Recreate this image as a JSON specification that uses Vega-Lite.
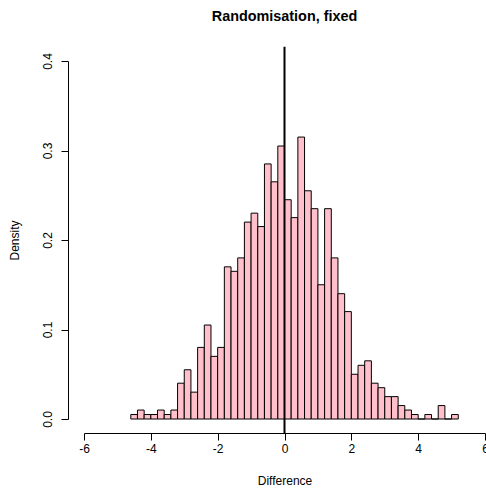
{
  "$schema": "https://vega.github.io/schema/vega-lite/v6.json",
  "width": 401,
  "height": 358,
  "autosize": {"type": "none"},
  "padding": {"left": 84, "top": 61, "right": 1, "bottom": 71},
  "background": "white",
  "config": {
    "view": {"stroke": null},
    "font": "Liberation Sans",
    "axis": {
      "grid": false,
      "domainColor": "black",
      "domainWidth": 1,
      "tickColor": "black",
      "tickWidth": 1,
      "tickSize": 7,
      "labelColor": "black",
      "labelFontSize": 12,
      "labelFlush": false,
      "labelOverlap": false,
      "titleColor": "black",
      "titleFontSize": 12,
      "titleFontWeight": "normal"
    }
  },
  "title": {
    "text": "Randomisation, fixed",
    "fontSize": 14.4,
    "fontWeight": "bold",
    "color": "black",
    "anchor": "middle",
    "frame": "group",
    "baseline": "alphabetic",
    "offset": 10
  },
  "layer": [
    {
      "data": {
        "values": [
          {"lo": -4.6, "hi": -4.4, "density": 0.005},
          {"lo": -4.4, "hi": -4.2, "density": 0.010},
          {"lo": -4.2, "hi": -4.0, "density": 0.005},
          {"lo": -4.0, "hi": -3.8, "density": 0.005},
          {"lo": -3.8, "hi": -3.6, "density": 0.010},
          {"lo": -3.6, "hi": -3.4, "density": 0.005},
          {"lo": -3.4, "hi": -3.2, "density": 0.010},
          {"lo": -3.2, "hi": -3.0, "density": 0.040},
          {"lo": -3.0, "hi": -2.8, "density": 0.055},
          {"lo": -2.8, "hi": -2.6, "density": 0.030},
          {"lo": -2.6, "hi": -2.4, "density": 0.080},
          {"lo": -2.4, "hi": -2.2, "density": 0.105},
          {"lo": -2.2, "hi": -2.0, "density": 0.070},
          {"lo": -2.0, "hi": -1.8, "density": 0.080},
          {"lo": -1.8, "hi": -1.6, "density": 0.170},
          {"lo": -1.6, "hi": -1.4, "density": 0.165},
          {"lo": -1.4, "hi": -1.2, "density": 0.180},
          {"lo": -1.2, "hi": -1.0, "density": 0.220},
          {"lo": -1.0, "hi": -0.8, "density": 0.230},
          {"lo": -0.8, "hi": -0.6, "density": 0.215},
          {"lo": -0.6, "hi": -0.4, "density": 0.285},
          {"lo": -0.4, "hi": -0.2, "density": 0.265},
          {"lo": -0.2, "hi": 0.0, "density": 0.305},
          {"lo": 0.0, "hi": 0.2, "density": 0.245},
          {"lo": 0.2, "hi": 0.4, "density": 0.225},
          {"lo": 0.4, "hi": 0.6, "density": 0.315},
          {"lo": 0.6, "hi": 0.8, "density": 0.255},
          {"lo": 0.8, "hi": 1.0, "density": 0.235},
          {"lo": 1.0, "hi": 1.2, "density": 0.150},
          {"lo": 1.2, "hi": 1.4, "density": 0.235},
          {"lo": 1.4, "hi": 1.6, "density": 0.180},
          {"lo": 1.6, "hi": 1.8, "density": 0.140},
          {"lo": 1.8, "hi": 2.0, "density": 0.120},
          {"lo": 2.0, "hi": 2.2, "density": 0.050},
          {"lo": 2.2, "hi": 2.4, "density": 0.060},
          {"lo": 2.4, "hi": 2.6, "density": 0.065},
          {"lo": 2.6, "hi": 2.8, "density": 0.040},
          {"lo": 2.8, "hi": 3.0, "density": 0.035},
          {"lo": 3.0, "hi": 3.2, "density": 0.025},
          {"lo": 3.2, "hi": 3.4, "density": 0.025},
          {"lo": 3.4, "hi": 3.6, "density": 0.015},
          {"lo": 3.6, "hi": 3.8, "density": 0.010},
          {"lo": 3.8, "hi": 4.0, "density": 0.005},
          {"lo": 4.0, "hi": 4.2, "density": 0.000},
          {"lo": 4.2, "hi": 4.4, "density": 0.005},
          {"lo": 4.4, "hi": 4.6, "density": 0.000},
          {"lo": 4.6, "hi": 4.8, "density": 0.015},
          {"lo": 4.8, "hi": 5.0, "density": 0.000},
          {"lo": 5.0, "hi": 5.2, "density": 0.005}
        ]
      },
      "mark": {"type": "rect", "fill": "#FFC0CB", "stroke": "black", "strokeWidth": 1},
      "encoding": {
        "x": {
          "field": "lo",
          "type": "quantitative",
          "scale": {"domain": [-6, 6], "nice": false, "zero": false},
          "axis": {
            "values": [-6, -4, -2, 0, 2, 4, 6],
            "labelExpr": "'' + datum.value",
            "offset": 14,
            "labelPadding": 3,
            "title": "Difference",
            "titlePadding": 21
          }
        },
        "x2": {"field": "hi"},
        "y": {
          "field": "density",
          "type": "quantitative",
          "scale": {"domain": [0, 0.4], "nice": false},
          "axis": {
            "values": [0, 0.1, 0.2, 0.3, 0.4],
            "format": ".1f",
            "offset": 16,
            "labelAngle": 270,
            "labelAlign": "center",
            "labelBaseline": "bottom",
            "labelPadding": 7,
            "title": "Density",
            "titlePadding": 20
          }
        },
        "y2": {"datum": 0}
      }
    },
    {
      "data": {"values": [{"v": 0}]},
      "mark": {"type": "rule", "strokeWidth": 2, "color": "black", "clip": false},
      "encoding": {
        "x": {"field": "v", "type": "quantitative"},
        "y": {"datum": -0.016},
        "y2": {"datum": 0.416}
      }
    }
  ]
}
